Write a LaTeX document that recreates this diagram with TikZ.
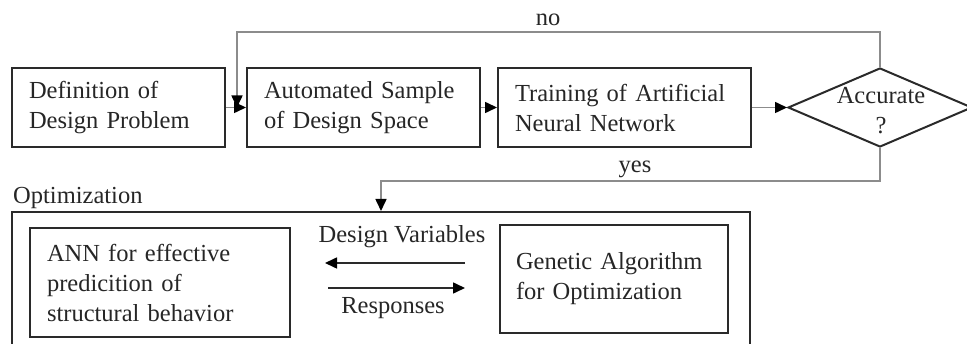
\documentclass[tikz,border=0pt]{standalone}
\usepackage{fontspec}
\setmainfont{Liberation Serif}
\usepackage{tikz}
\usetikzlibrary{shapes.geometric, positioning, arrows.meta}
\usetikzlibrary{calc}

\definecolor{boxline}{HTML}{2A2A2A}
\definecolor{linegray}{HTML}{8C8C8C}
\definecolor{txt}{HTML}{262626}

\begin{document}
\begin{tikzpicture}[x=1pt, y=-1pt, font=\fontsize{24.5}{30}\selectfont, text=txt,
    box/.style = {draw=boxline, line width=2pt, rectangle, align=left, inner xsep=17pt, minimum height=79pt},
    decision/.style = {draw=boxline, line width=2pt, diamond, minimum width=184pt, minimum height=79pt, inner sep=0pt},
    conn/.style = {draw=linegray, line width=1.6pt, -{Triangle[length=12pt, width=11pt, color=black]}},
    flow/.style = {draw=boxline, line width=1.6pt, -{Triangle[length=12pt, width=11pt, color=black]}}]
    \useasboundingbox (0,0) rectangle (967,344);

    \node[box, text width=179pt] (def) at (118.5,107.5) {Definition of\\Design Problem};
    \node[box, text width=199pt] (sample) at (363.5,107.5) {Automated Sample\\of Design Space};
    \node[box, text width=219pt] (train) at (624.5,107.5) {Training of Artificial\\Neural Network};
    \node[decision] (acc) at (880,107.5) {};
    \node[align=center, inner sep=0pt] (acctext) at (881,111) {Accurate\\?};

    \node[draw=boxline, line width=2pt, rectangle, minimum width=738pt, minimum height=136pt] (opt) at (381,280) {};
    \node[anchor=base west, inner sep=0pt] (optlabel) at (13,204) {Optimization};
    \node[box, text width=226pt, minimum height=109pt] (ann) at (160,282.5) {ANN for effective\\predicition of\\structural behavior};
    \node[box, text width=196pt, inner xsep=16pt, minimum height=108pt] (ga) at (614,279) {Genetic Algorithm\\for Optimization};

    \coordinate (join) at (237,107.5);
    \coordinate (dvstart) at (465,263);
    \coordinate (dvend) at (325,263);
    \coordinate (rsstart) at (328,288);
    \coordinate (rsend) at (465,288);

    \node (no) at (548,20) {no};
    \node (yes) at (635,169) {yes};
    \node (dv) at (402,237) {Design Variables};
    \node (rs) at (393,308) {Responses};

    \draw[conn] (def) -- (sample);
    \draw[conn] (sample) -- (train);
    \draw[conn] (train) -- (acc);
    \draw[conn] (acc.north) -- ++(0,-35) -| (join);
    \draw[conn] (acc.south) -- ++(0,33) -| (opt.north);

    \draw[flow] (dvstart) -- (dvend);
    \draw[flow] (rsstart) -- (rsend);
\end{tikzpicture}
\end{document}
